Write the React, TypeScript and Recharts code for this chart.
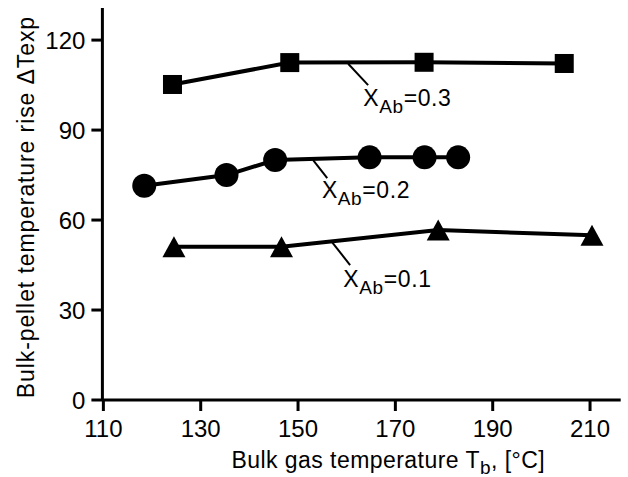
import React from "react";
import {
  LineChart,
  Line,
  XAxis,
  YAxis,
  ReferenceLine,
  ReferenceDot,
} from "recharts";

if (typeof document !== "undefined") document.body.style.margin = "0";

// bulk gas temperature (°C) and measured rise for each feed fraction
const tempsX03 = [124.2, 148.3, 175.9, 204.7];
const riseX03 = [105.2, 112.5, 112.6, 112.2];

const tempsX02 = [118.4, 135.3, 145.3, 164.7, 176.0, 182.9];
const riseX02 = [71.4, 75.0, 80.0, 80.9, 80.9, 80.9];

const tempsX01 = [124.5, 146.6, 178.8, 210.4];
const riseX01 = [51.1, 51.1, 56.7, 54.9];

const xTicks = [110, 130, 150, 170, 190, 210];
const yTicks = [0, 30, 60, 90, 120];

const FONT = "'Liberation Sans', Arial, sans-serif";

const toPoints = (xs: number[], ys: number[]) =>
  xs.map((x, i) => ({ x, y: ys[i] }));

const data03 = toPoints(tempsX03, riseX03);
const data02 = toPoints(tempsX02, riseX02);
const data01 = toPoints(tempsX01, riseX01);

function SquareDot({ cx, cy }: any) {
  if (cx == null || cy == null) return null;
  return <rect x={cx - 9.5} y={cy - 9.5} width={19} height={19} fill="#000" />;
}

function CircleDot({ cx, cy }: any) {
  if (cx == null || cy == null) return null;
  return <circle cx={cx} cy={cy} r={12} fill="#000" />;
}

function TriangleDot({ cx, cy }: any) {
  if (cx == null || cy == null) return null;
  const w = 11.5;
  const h = 10.5;
  return (
    <path
      d={`M${cx},${cy - h} L${cx + w},${cy + h} L${cx - w},${cy + h} Z`}
      fill="#000"
    />
  );
}

/** series tag like X_Ab=0.3, anchored at its left baseline */
function SeriesTag({ viewBox, value }: any) {
  if (!viewBox) return null;
  const x = viewBox.x + (viewBox.width || 0) / 2;
  const y = viewBox.y + (viewBox.height || 0) / 2;
  return (
    <text
      x={x}
      y={y}
      fontFamily={FONT}
      fontSize={23}
      letterSpacing={0.6}
      fill="#000"
    >
      X
      <tspan dy={7} fontSize={19}>
        Ab
      </tspan>
      <tspan dy={-7}>={value}</tspan>
    </text>
  );
}

function XTitle({ viewBox }: any) {
  const x = viewBox.x + 129;
  const y = 467.5;
  return (
    <text
      x={x}
      y={y}
      fontFamily={FONT}
      fontSize={23}
      letterSpacing={0.45}
      fill="#000"
    >
      Bulk gas temperature T
      <tspan dy={6} fontSize={19}>
        b
      </tspan>
      <tspan dy={-6}>, [°C]</tspan>
    </text>
  );
}

function YTitle() {
  return (
    <text
      x={34}
      y={16}
      transform="rotate(-90 34 16)"
      textAnchor="end"
      fontFamily={FONT}
      fontSize={23}
      letterSpacing={0.9}
      fill="#000"
    >
      Bulk-pellet temperature rise  ΔTexp
    </text>
  );
}

const axisStyle = { stroke: "#000", strokeWidth: 3 };
const tickStyle = { fontFamily: FONT, fontSize: 24, fill: "#000" };

export default function App() {
  return (
    <div style={{ width: 628, height: 477, background: "#fff" }}>
      <LineChart
        width={628}
        height={477}
        margin={{ top: 8, right: 7.3, left: 0, bottom: 0 }}
      >
        <XAxis
          dataKey="x"
          type="number"
          domain={[109.8, 216.3]}
          ticks={xTicks}
          axisLine={axisStyle}
          tickLine={axisStyle}
          tickSize={11}
          tickMargin={9}
          tick={tickStyle}
          height={77}
          allowDataOverflow
          label={<XTitle />}
        />
        <XAxis
          xAxisId="top"
          orientation="top"
          type="number"
          domain={[109.8, 216.3]}
          tick={false}
          tickLine={false}
          axisLine={axisStyle}
          height={0}
        />
        <YAxis
          type="number"
          domain={[0, 130.7]}
          ticks={yTicks}
          axisLine={axisStyle}
          tickLine={axisStyle}
          tickSize={11}
          tickMargin={6}
          tick={tickStyle}
          width={102.4}
          allowDataOverflow
          label={<YTitle />}
        />
        <YAxis
          yAxisId="right"
          orientation="right"
          tick={false}
          tickLine={false}
          axisLine={axisStyle}
          width={0}
        />

        <Line
          data={data03}
          dataKey="y"
          type="linear"
          stroke="#000"
          strokeWidth={4}
          dot={(p: any) => <SquareDot key={`s${p.index}`} {...p} />}
          isAnimationActive={false}
        />
        <Line
          data={data02}
          dataKey="y"
          type="linear"
          stroke="#000"
          strokeWidth={4}
          dot={(p: any) => <CircleDot key={`c${p.index}`} {...p} />}
          isAnimationActive={false}
        />
        <Line
          data={data01}
          dataKey="y"
          type="linear"
          stroke="#000"
          strokeWidth={4}
          dot={(p: any) => <TriangleDot key={`t${p.index}`} {...p} />}
          isAnimationActive={false}
        />

        {/* leader lines from curves to their tags */}
        <ReferenceLine
          segment={[
            { x: 160.3, y: 112.1 },
            { x: 164.4, y: 105 },
          ]}
          stroke="#000"
          strokeWidth={2}
        />
        <ReferenceLine
          segment={[
            { x: 153.1, y: 80 },
            { x: 156.0, y: 74 },
          ]}
          stroke="#000"
          strokeWidth={2}
        />
        <ReferenceLine
          segment={[
            { x: 156.9, y: 52.8 },
            { x: 160.7, y: 45 },
          ]}
          stroke="#000"
          strokeWidth={2}
        />

        <ReferenceDot
          x={163.4}
          y={98.1}
          r={0.01}
          fill="none"
          stroke="none"
          label={<SeriesTag value="0.3" />}
        />
        <ReferenceDot
          x={154.9}
          y={67.3}
          r={0.01}
          fill="none"
          stroke="none"
          label={<SeriesTag value="0.2" />}
        />
        <ReferenceDot
          x={159.3}
          y={37.8}
          r={0.01}
          fill="none"
          stroke="none"
          label={<SeriesTag value="0.1" />}
        />
      </LineChart>
    </div>
  );
}
